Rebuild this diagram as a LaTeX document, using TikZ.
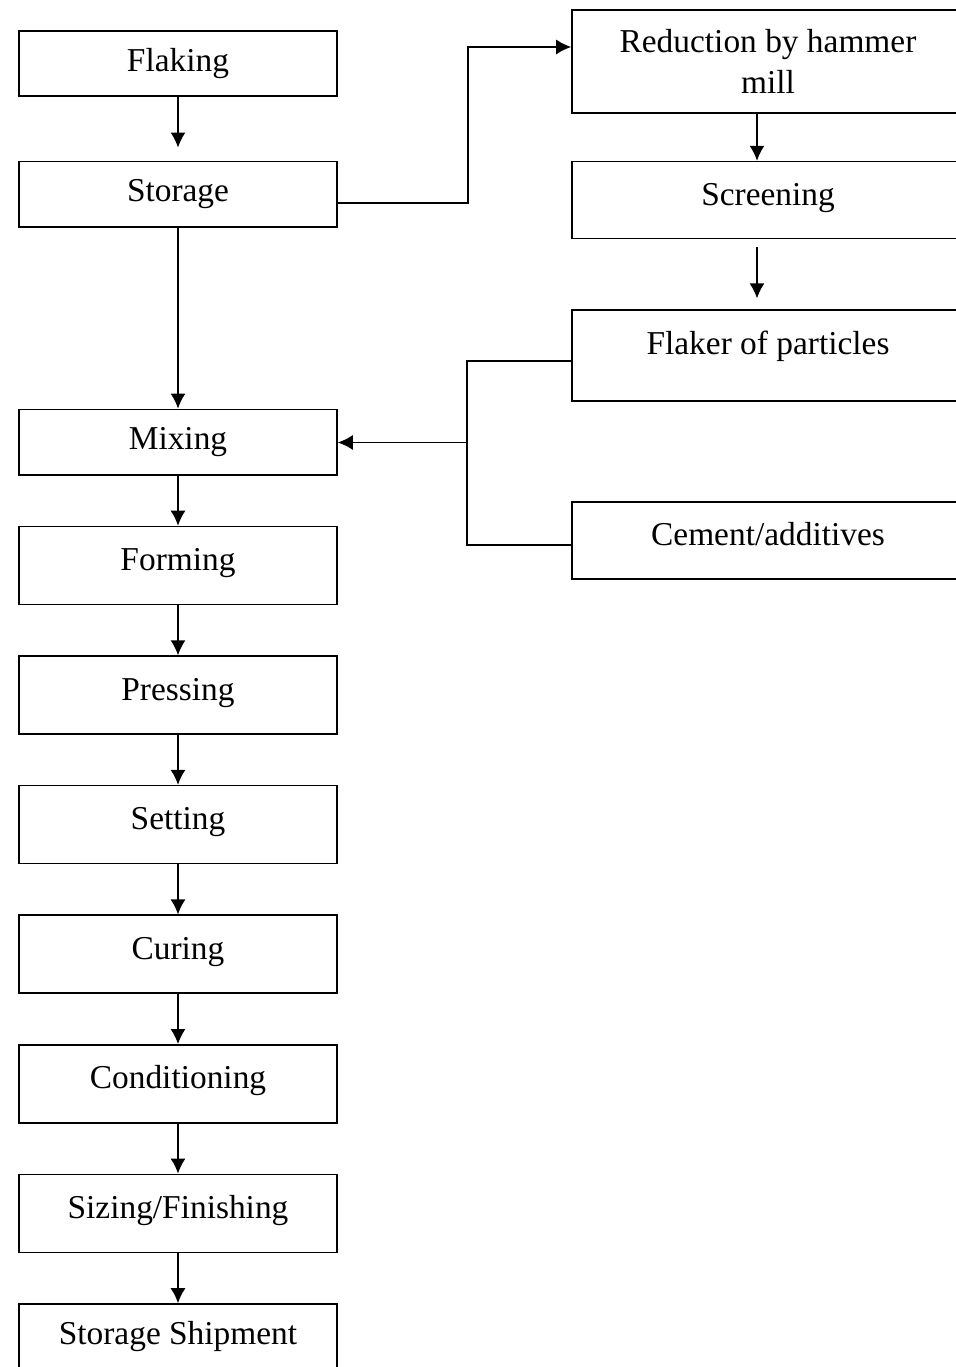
\documentclass[tikz,border=0pt]{standalone}
\usepackage{fontspec}
\setmainfont{Liberation Serif}
\usepackage{tikz}
\usetikzlibrary{positioning,arrows.meta,calc}
\tikzset{
    basebox/.style={
        draw,
        rectangle,
        line width=0.9pt,
        align=center,
        font=\fontsize{19}{23}\selectfont
    },
    lift/.style={
        text height=0.5cm,
        text depth=0.3cm
    },
    shortbox/.style={
        basebox,
        minimum width=6.36cm,
        minimum height=1.31cm
    },
    stepbox/.style={
        basebox,
        lift,
        minimum width=6.36cm,
        minimum height=1.56cm
    },
    sidebox/.style={
        basebox,
        lift,
        minimum width=7.84cm,
        minimum height=1.54cm
    },
    flowline/.style={
        draw,
        line width=0.9pt,
        -{Latex[length=0.3cm,width=0.3cm]}
    },
    busline/.style={
        draw,
        line width=0.9pt
    }
}
\begin{document}
\begin{tikzpicture}[node distance=1.0cm]
        \useasboundingbox (0,0) rectangle (19.1,-27.34);

        % main line
        \node[shortbox] (flaking) at (3.56,-1.27) {Flaking};
        \node[shortbox, below=1.27cm of flaking] (storage) {Storage};
        \node[shortbox, below=3.62cm of storage] (mixing) {Mixing};
        \node[stepbox, below=of mixing] (forming) {Forming};
        \node[stepbox, below=of forming] (pressing) {Pressing};
        \node[stepbox, below=of pressing] (setting) {Setting};
        \node[stepbox, below=of setting] (curing) {Curing};
        \node[stepbox, below=of curing] (conditioning) {Conditioning};
        \node[stepbox, below=of conditioning] (sizing) {Sizing/Finishing};
        \node[stepbox, text depth=0.45cm, below=of sizing] (shipment) {Storage Shipment};

        % particle line
        \node[basebox, minimum width=7.84cm, minimum height=2.06cm] (reduction) at (15.36,-1.23) {Reduction by hammer\\mill};
        \node[sidebox, below=0.94cm of reduction] (screening) {Screening};
        \node[sidebox, minimum height=1.82cm, text depth=0.55cm, below=1.4cm of screening] (flaker) {Flaker of particles};
        \node[sidebox, below=1.98cm of flaker] (cement) {Cement/additives};

        \coordinate (riser) at (9.36,-4.06);
        \coordinate (bus) at (9.34,-8.85);

        \path[flowline, shorten >=0.26cm] (flaking) -- (storage);
        \path[flowline] (storage) -- (mixing);
        \path[flowline] (storage.east |- riser) -- (riser) |- ([yshift=0.29cm]reduction.west);
        \path[flowline] ([xshift=-0.22cm]reduction.south) -- ([xshift=-0.22cm]screening.north);
        \path[flowline, shorten <=0.16cm, shorten >=0.22cm] ([xshift=-0.22cm]screening.south) -- ([xshift=-0.22cm]flaker.north);
        \path[busline] ([yshift=-0.11cm]flaker.west) -| (bus) |- ([yshift=-0.09cm]cement.west);
        \path[flowline] (bus) -- (bus -| mixing.east);
        \path[flowline] (mixing) -- (forming);
        \path[flowline] (forming) -- (pressing);
        \path[flowline] (pressing) -- (setting);
        \path[flowline] (setting) -- (curing);
        \path[flowline] (curing) -- (conditioning);
        \path[flowline] (conditioning) -- (sizing);
        \path[flowline] (sizing) -- (shipment);
    \end{tikzpicture}
\end{document}
